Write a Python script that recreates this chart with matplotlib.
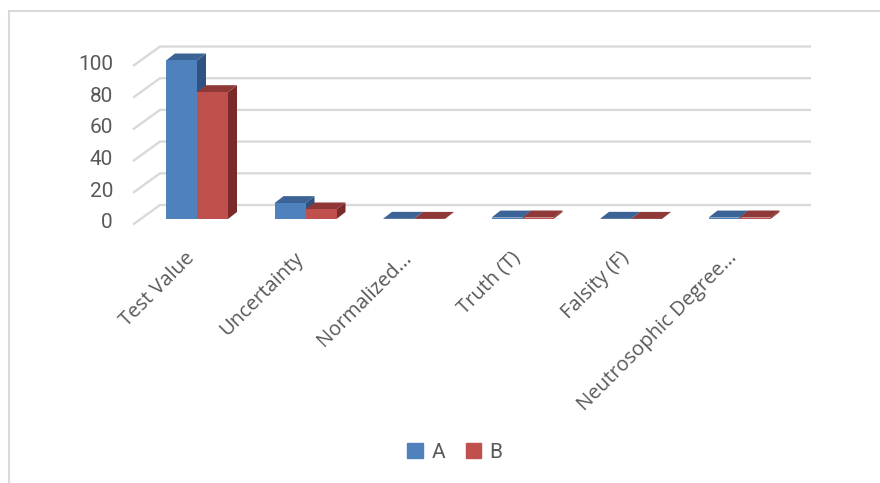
"""
    3D-style clustered column chart (Excel look)
"""

import matplotlib
matplotlib.use("Agg")
import matplotlib.pyplot as plt
from matplotlib.patches import Polygon, Rectangle
import numpy as np


categories = ['Test Value', 'Uncertainty', 'Normalized...', 'Truth (T)',
              'Falsity (F)', 'Neutrosophic Degree...']
series_names = ['A', 'B']
a_vals = [100, 10, 0.1, 0.9, 0.1, 0.9]
b_vals = [80, 6, 0.06, 0.94, 0.06, 0.94]
yticks = [0, 20, 40, 60, 80, 100]

# colours: front, top, side
colors = {
    'A': ('#4F81BD', '#3B6395', '#2F5280'),
    'B': ('#C0504D', '#8E3937', '#7A2B29'),
}
num_font = ['Roboto', 'DejaVu Sans']

# pixel geometry of the original picture
W, H = 880, 483
CAT0 = 197.0      # x pixel of first category centre
CAT_STEP = 108.5  # pixels between categories
ZERO = 219.0      # y pixel of value 0 on the front plane
PPV = 1.585       # pixels per unit


def fx(px):
    return (px - CAT0) / CAT_STEP


def fv(dpx):
    return dpx / PPV


fig = plt.figure(figsize=(W / 100, H / 100), dpi=100)
L, R, T, B = 100, 840, 30, 260
ax = fig.add_axes([L / W, 1 - B / H, (R - L) / W, (B - T) / H])
ax.set_xlim(fx(L), fx(R))
ax.set_ylim(fv(ZERO - B), fv(ZERO - T))
ax.axis('off')

# outer chart border
fig.add_artist(Rectangle((9 / W, -0.1), 1.2, 1 - 11 / H + 0.1,
                         transform=fig.transFigure, fill=False,
                         edgecolor='#d9d9d9', lw=1.5))

grid_col = '#d9d9d9'
back_dy = fv(14)
side_x0, side_x1, grid_x1 = fx(133), fx(160), fx(811)
for v in yticks:
    ax.plot([side_x0, side_x1, grid_x1], [v - fv(5.5), v + back_dy, v + back_dy],
            color=grid_col, lw=1.7, solid_capstyle='butt', zorder=1)
    ax.text(fx(113), v - fv(4), str(v), ha='right', va='center',
            fontsize=15, color='#595959', family=num_font)

# bars
bw = 31 / CAT_STEP
ddx, ddy = 9 / CAT_STEP, fv(7)
x = np.arange(len(categories))
z = 2
for name, vals, off in [('A', a_vals, -bw), ('B', b_vals, 0.0)]:
    front, top, side = colors[name]
    for xi, v in zip(x, vals):
        x0 = xi + off
        x1 = x0 + bw
        ax.add_patch(Polygon([(x1, 0), (x1 + ddx, ddy), (x1 + ddx, v + ddy), (x1, v)],
                             closed=True, facecolor=side, edgecolor='none', zorder=z))
        ax.add_patch(Polygon([(x0, v), (x1, v), (x1 + ddx, v + ddy), (x0 + ddx, v + ddy)],
                             closed=True, facecolor=top, edgecolor='none', zorder=z))
        ax.bar(x0, v, width=bw, align='edge', color=front, edgecolor='none',
               zorder=z + 0.5)
    z += 1

# category labels
for xi, lab in zip(x, categories):
    ax.text(xi - fx(CAT0 + 12), fv(ZERO - 248), lab, rotation=45,
            rotation_mode='anchor', ha='right', va='top', fontsize=14.5,
            color='#595959', family='Open Sans', clip_on=False)

# legend
handles = [Rectangle((0, 0), 1, 1, color=colors[n][0]) for n in series_names]
fig.legend(handles, series_names, loc='center', bbox_to_anchor=(455 / W, 1 - 452 / H),
           ncol=2, frameon=False, handlelength=0.75, handleheight=0.75,
           handletextpad=0.4, columnspacing=1.0,
           prop={'family': num_font, 'size': 15},
           labelcolor='#595959')

fig.savefig('out.png', dpi=100)
